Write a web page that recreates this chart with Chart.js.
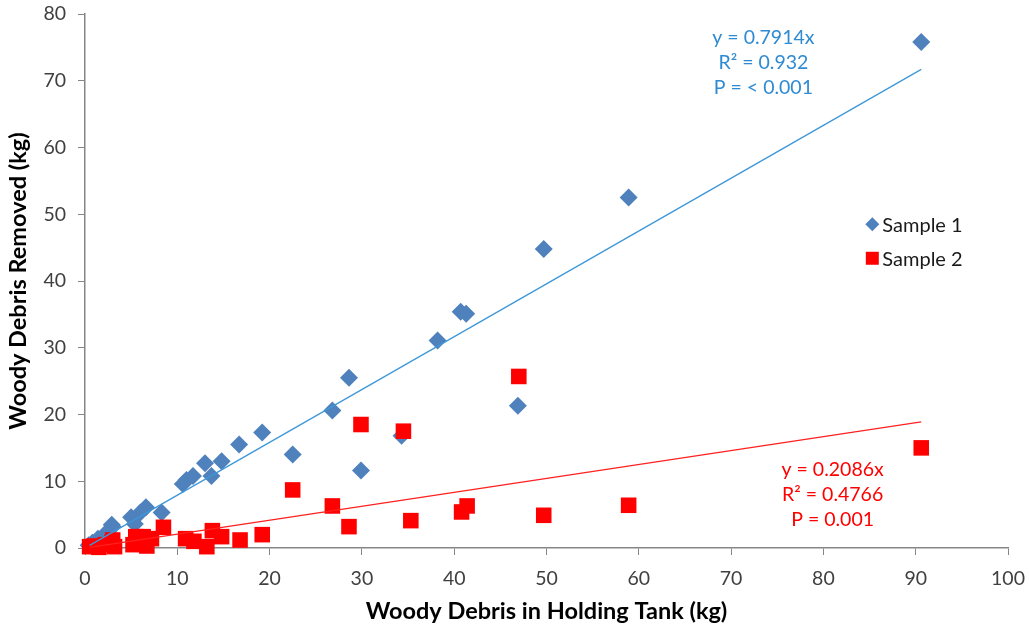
<!DOCTYPE html>
<html>
<head>
<meta charset="utf-8">
<script src="https://cdn.jsdelivr.net/npm/chart.js@4"></script>
<style>
  body { margin: 0; background: #fff; }
</style>
</head>
<body>
<canvas id="chart" width="1029" height="630"></canvas>
<script>
// Sample 1: tank amount (x) vs removed (y)
var s1X = [90.6, 58.9, 49.7, 40.7, 41.3, 38.2, 46.9, 34.3, 28.6, 26.8, 29.9, 22.5, 19.2, 16.7, 14.8, 13.7, 13.0, 11.7, 11.0, 10.6, 8.3, 6.6, 6.0, 5.0, 5.4, 3.0, 2.9, 2.3, 1.4, 0.8, 0.4];
var s1Y = [75.8, 52.5, 44.8, 35.4, 35.1, 31.1, 21.3, 16.8, 25.5, 20.6, 11.6, 14.0, 17.3, 15.5, 13.0, 10.8, 12.7, 10.8, 10.2, 9.6, 5.3, 6.1, 5.3, 4.6, 3.6, 3.2, 3.5, 2.3, 1.4, 0.8, 0.4];

// Sample 2
var s2X = [0.5, 1.0, 1.5, 2.2, 2.9, 3.2, 3.0, 5.2, 5.5, 6.3, 6.7, 7.2, 8.5, 10.9, 11.8, 13.2, 13.8, 14.8, 16.8, 19.2, 22.5, 26.8, 28.6, 29.9, 34.5, 35.3, 40.8, 41.4, 47.0, 49.7, 58.9, 90.6];
var s2Y = [0.2, 0.3, 0.1, 0.5, 0.8, 0.2, 1.2, 0.5, 1.7, 1.7, 0.3, 1.4, 3.1, 1.4, 1.0, 0.2, 2.6, 1.7, 1.2, 2.0, 8.7, 6.3, 3.2, 18.5, 17.5, 4.1, 5.4, 6.3, 25.7, 4.9, 6.4, 15.0];

// linear trendlines through origin (from the equations on the chart)
var trendX = [0.5, 90.6];
var slope1 = 0.7914;
var slope2 = 0.2086;

var xTicks = [0, 10, 20, 30, 40, 50, 60, 70, 80, 90, 100];
var yTicks = [0, 10, 20, 30, 40, 50, 60, 70, 80];

var eq1 = ["y = 0.7914x", "R\u00b2 = 0.932", "P = < 0.001"];
var eq2 = ["y = 0.2086x", "R\u00b2 = 0.4766", "P = 0.001"];

function pts(xs, ys) {
    return xs.map(function (x, i) { return {x: x, y: ys[i]}; });
}

var FONT = "Lato, 'Liberation Sans', sans-serif";

var textPlugin = {
    id: "textPlugin",
    afterDraw: function (chart) {
        var ctx = chart.ctx;
        var xs = chart.scales.x, ys = chart.scales.y;
        ctx.save();
        ctx.font = "19.5px " + FONT;
        ctx.textAlign = "center";
        ctx.textBaseline = "middle";
        ctx.fillStyle = "#2E8BD3";
        eq1.forEach(function (t, i) {
            ctx.fillText(t, xs.getPixelForValue(73.5), ys.getPixelForValue(76.5) + i * 25);
        });
        ctx.fillStyle = "#FF0000";
        eq2.forEach(function (t, i) {
            ctx.fillText(t, xs.getPixelForValue(81.0), ys.getPixelForValue(11.7) + i * 25);
        });

        // legend
        var lx = xs.getPixelForValue(85.3), ly = ys.getPixelForValue(48.5);
        var items = chart.data.datasets.filter(function (d) { return d.inLegend; });
        ctx.textAlign = "left";
        ctx.font = "20px " + FONT;
        items.forEach(function (d, i) {
            var y = ly + i * 34;
            ctx.fillStyle = d.backgroundColor;
            ctx.beginPath();
            if (d.pointStyle === "rectRot") {
                ctx.moveTo(lx, y - 7); ctx.lineTo(lx + 7, y); ctx.lineTo(lx, y + 7); ctx.lineTo(lx - 7, y);
            } else {
                ctx.rect(lx - 6.5, y - 6.5, 13, 13);
            }
            ctx.closePath();
            ctx.fill();
            ctx.fillStyle = "#1a1a1a";
            ctx.fillText(d.label, lx + 10, y + 1);
        });
        ctx.restore();
    }
};

new Chart("chart", {
    type: "scatter",
    data: {
        datasets: [{
            label: "Sample 1",
            inLegend: true,
            data: pts(s1X, s1Y),
            pointStyle: "rectRot",
            pointRadius: 9,
            pointHoverRadius: 9,
            backgroundColor: "#4F81BD",
            borderColor: "#4F81BD",
            borderWidth: 0,
            clip: false,
            order: 3
        }, {
            label: "Sample 2",
            inLegend: true,
            data: pts(s2X, s2Y),
            pointStyle: "rect",
            pointRadius: 11,
            pointHoverRadius: 11,
            backgroundColor: "#FF0000",
            borderColor: "#FF0000",
            borderWidth: 0,
            clip: false,
            order: 2
        }, {
            label: "Trend 1",
            type: "line",
            data: pts(trendX, trendX.map(function (x) { return slope1 * x; })),
            borderColor: "#3D97D8",
            borderWidth: 1.3,
            pointRadius: 0,
            fill: false,
            order: 1
        }, {
            label: "Trend 2",
            type: "line",
            data: pts(trendX, trendX.map(function (x) { return slope2 * x; })),
            borderColor: "#FF2020",
            borderWidth: 1.3,
            pointRadius: 0,
            fill: false,
            order: 0
        }]
    },
    options: {
        responsive: false,
        animation: false,
        layout: {padding: {top: 14, right: 21, left: 0, bottom: 0}},
        plugins: {
            legend: {display: false},
            tooltip: {enabled: false}
        },
        scales: {
            x: {
                type: "linear",
                min: 0, max: 100,
                afterFit: function (s) { s.height = 82; s.paddingLeft = 0; s.paddingRight = 0; },
                afterBuildTicks: function (s) { s.ticks = xTicks.map(function (v) { return {value: v}; }); },
                grid: {drawOnChartArea: false, drawTicks: true, tickLength: 7, color: "#868686", lineWidth: 1},
                border: {color: "#868686", width: 1.5},
                ticks: {color: "#404040", font: {family: FONT, size: 19.5}, padding: 12},
                title: {display: true, text: "Woody Debris in Holding Tank (kg)", color: "#000", font: {family: FONT, size: 23.5, weight: "bold"}, padding: {top: 0, bottom: 4}}
            },
            y: {
                type: "linear",
                min: 0, max: 80,
                afterFit: function (s) { s.width = 85; s.paddingTop = 0; s.paddingBottom = 0; },
                afterBuildTicks: function (s) { s.ticks = yTicks.map(function (v) { return {value: v}; }); },
                grid: {drawOnChartArea: false, drawTicks: true, tickLength: 7, color: "#868686", lineWidth: 1},
                border: {color: "#868686", width: 1.5},
                ticks: {color: "#404040", font: {family: FONT, size: 19.5}, padding: 12},
                title: {display: true, text: "Woody Debris Removed (kg)", color: "#000", font: {family: FONT, size: 23.5, weight: "bold"}, padding: {top: 4, bottom: 0}}
            }
        }
    },
    plugins: [textPlugin]
});
</script>
</body>
</html>
